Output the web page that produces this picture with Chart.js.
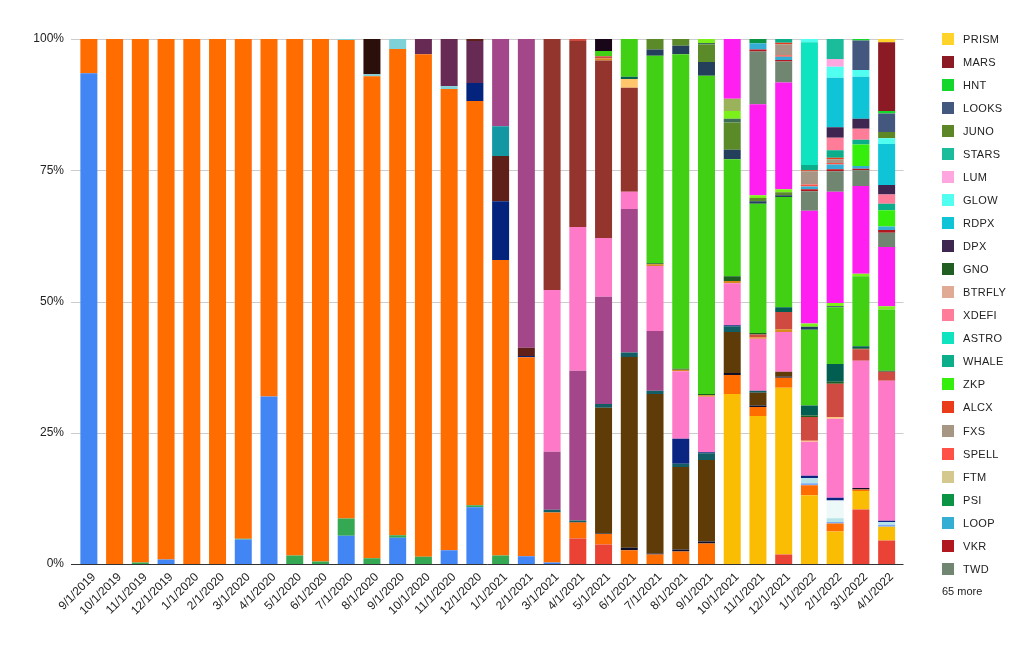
<!DOCTYPE html>
<html><head><meta charset="utf-8">
<script src="https://cdn.jsdelivr.net/npm/chart.js@4"></script>
<style>
html,body{margin:0;padding:0;background:#fff;}
#wrap{position:relative;width:1035px;height:647px;overflow:hidden;}
#c{position:absolute;left:0;top:0;}
#legend{position:absolute;left:942px;top:0;width:93px;height:647px;font-family:"Liberation Sans",Arial,sans-serif;font-size:11px;color:#222;}
.item{position:absolute;left:0;height:12px;white-space:nowrap;}
.box{position:absolute;left:0;top:0;width:12px;height:12px;}
.lbl{position:absolute;left:21px;top:0;line-height:12px;letter-spacing:0.3px;}
.more{position:absolute;left:0;line-height:12px;white-space:nowrap;}
</style></head>
<body><div id="wrap"><canvas id="c" width="1035" height="647"></canvas><div id="legend"></div></div>
<script>
const categories = ['9/1/2019','10/1/2019','11/1/2019','12/1/2019','1/1/2020','2/1/2020','3/1/2020','4/1/2020','5/1/2020','6/1/2020','7/1/2020','8/1/2020','9/1/2020','10/1/2020','11/1/2020','12/1/2020','1/1/2021','2/1/2021','3/1/2021','4/1/2021','5/1/2021','6/1/2021','7/1/2021','8/1/2021','9/1/2021','10/1/2021','11/1/2021','12/1/2021','1/1/2022','2/1/2022','3/1/2022','4/1/2022'];
const yTicks = [0, 25, 50, 75, 100];
const moreLabel = '65 more';

// Series not named in the visible legend (bottom of stack upward)
const s01 = [93.5,0,0,0.85,0,0,4.65,31.9, 0,0,5.4,0,5.0,0,2.6,10.8, 0,1.5,0.3,0,0,0,0,0, 0,0,0,0,0,0,0,0];
const s02 = [0,0,0,0,0,0,0,0, 0,0,0,0,0,0,0,0, 0,0,0,4.85,3.7,0,0,0, 0,0,0,1.8,0,0,10.4,4.5];
const s03 = [0,0,0,0,0,0,0,0, 0,0,0,0,0,0,0,0, 0,0,0,0,0,0,0,0, 0,32.4,28.2,31.75,13.1,6.2,3.5,2.6];
const s04 = [0,0,0.3,0,0,0,0.15,0, 1.6,0.5,3.25,1.1,0.5,1.4,0,0.4, 1.6,0,0,0,0,0,0,0, 0,0,0,0,0,0,0,0];
const s05 = [6.5,100,99.7,99.15,100,100,95.2,68.1, 98.4,99.5,91.15,91.8,92.6,95.7,87.9,77.0, 56.3,37.9,9.5,3.05,2.0,2.6,1.8,2.4, 3.9,3.6,1.7,1.95,1.9,1.5,0.3,0];
const s06 = [0,0,0,0,0,0,0,0, 0,0,0,0,0,0,0,0, 0,0,0,0,0,0,0,0, 0,0,0,0,0.4,0.3,0,0.4];
const s07 = [0,0,0,0,0,0,0,0, 0,0,0.2,0.4,1.9,0,0.5,0, 0,0,0,0,0,0,0,0, 0,0,0,0,0,0,0,0];
const s08 = [0,0,0,0,0,0,0,0, 0,0,0,0,0,0,0,0, 0,0,0,0,0,0,0,0, 0,0,0,0,1.0,0.7,0,0.5];
const s09 = [0,0,0,0,0,0,0,0, 0,0,0,0,0,0,0,0, 0,0,0,0,0,0,0,0, 0,0,0,0,0,3.4,0,0];
const s10 = [0,0,0,0,0,0,0,0, 0,0,0,6.7,0,0,0,0, 0,0,0,0,0,0,0,0, 0,0,0,0,0,0,0,0];
const s11 = [0,0,0,0,0,0,0,0, 0,0,0,0,0,0,0,3.4, 11.2,0.2,0,0,0,0,0,0, 0,0,0,0,0,0,0,0];
const s12 = [0,0,0,0,0,0,0,0, 0,0,0,0,0,2.9,9.0,8.0, 0,0,0,0,0,0,0,0, 0,0,0,0,0,0,0,0];
const s13 = [0,0,0,0,0,0,0,0, 0,0,0,0,0,0,0,0.4, 8.6,1.6,0,0,0,0,0,0, 0,0,0,0,0,0,0,0];
const s14 = [0,0,0,0,0,0,0,0, 0,0,0,0,0,0,0,0, 5.7,0,0,0,0,0,0,0, 0,0,0,0,0,0,0,0];
const s15 = [0,0,0,0,0,0,0,0, 0,0,0,0,0,0,0,0, 0,0,0,0.1,0.1,0.5,0.2,0.35, 0.4,0.4,0.3,0.2,0,0,0.3,0];
const s16 = [0,0,0,0,0,0,0,0, 0,0,0,0,0,0,0,0, 0,0,0,0,23.95,36.35,30.4,15.75, 15.5,7.8,2.4,0.9,0,0,0,0];
const s17 = [0,0,0,0,0,0,0,0, 0,0,0,0,0,0,0,0, 0,0,0.55,0.3,0.75,0.85,0.6,0.6, 1.3,1.1,0.4,0,0,0,0,0];
const s18 = [0,0,0,0,0,0,0,0, 0,0,0,0,0,0,0,0, 0,0,0,0,0,0,0,4.75, 0.2,0.2,0,0,0.4,0.5,0,0.25];
const s19 = [0,0,0,0,0,0,0,0, 0,0,0,0,0,0,0,0, 16.6,58.8,11.05,28.5,20.4,27.3,11.4,0, 0,0,0,0,0,0,0,0];
const s20 = [0,0,0,0,0,0,0,0, 0,0,0,0,0,0,0,0, 0,0,30.8,27.4,11.2,3.3,12.35,12.85, 10.55,8.0,9.9,7.6,6.5,15.05,24.2,26.65];
const s21 = [0,0,0,0,0,0,0,0, 0,0,0,0,0,0,0,0, 0,0,47.8,35.4,33.8,19.8,0,0, 0,0,0,0,0,0,0,0];
const s22 = [0,0,0,0,0,0,0,0, 0,0,0,0,0,0,0,0, 0,0,0,0,0.4,0,0.35,0.3, 0.3,0.4,0.3,0.5,0,0,0,0];
const s23 = [0,0,0,0,0,0,0,0, 0,0,0,0,0,0,0,0, 0,0,0,0,0,1.7,0,0, 0,0,0,0,0.2,0.3,0,0];
const s24 = [0,0,0,0,0,0,0,0, 0,0,0,0,0,0,0,0, 0,0,0,0.4,0.4,0,0,0, 0,0,0.5,3.3,4.5,6.4,2.2,1.7];
const s25 = [0,0,0,0,0,0,0,0, 0,0,0,0,0,0,0,0, 0,0,0,0,0,0,0.2,0.2, 0.25,0.9,0.3,0,0.3,0.35,0.2,0.2];
const s26 = [0,0,0,0,0,0,0,0, 0,0,0,0,0,0,0,0, 0,0,0,0,0,0.4,0,0, 0,0,0,0.9,1.9,3.4,0.4,0];
const s27 = [0,0,0,0,0,0,0,0, 0,0,0,0,0,0,0,0, 0,0,0,0,1.0,7.2,39.5,59.9, 60.6,22.3,24.6,21.0,14.4,10.8,13.3,11.7];
const s28 = [0,0,0,0,0,0,0,0, 0,0,0,0,0,0,0,0, 0,0,0,0,2.3,0,0,0, 0,0,0,0,0,0,0,0];
const s29 = [0,0,0,0,0,0,0,0, 0,0,0,0,0,0,0,0, 0,0,0,0,0,0,1.2,1.6, 2.6,1.8,0.5,0.35,0.6,0.2,0,0];
const s30 = [0,0,0,0,0,0,0,0, 0,0,0,0,0,0,0,0, 0,0,0,0,0,0,2.0,1.3, 3.35,5.2,0.6,0.55,0,0,0,0];
const s31 = [0,0,0,0,0,0,0,0, 0,0,0,0,0,0,0,0, 0,0,0,0,0,0,0,0, 0.3,0.7,0,0,0,0,0,0];
const s32 = [0,0,0,0,0,0,0,0, 0,0,0,0,0,0,0,0, 0,0,0,0,0,0,0,0, 0.75,1.5,0.55,0.6,0.6,0.6,0.5,0.6];
const s33 = [0,0,0,0,0,0,0,0, 0,0,0,0,0,0,0,0, 0,0,0,0,0,0,0,0, 0,2.3,0,0,0,0,0,0];
const s34 = [0,0,0,0,0,0,0,0, 0,0,0,0,0,0,0,0, 0,0,0,0,0,0,0,0, 0,11.4,17.3,20.3,21.5,21.2,16.7,11.3];

// Series shown in the legend (bottom of stack upward)
const twd    = [0,0,0,0,0,0,0,0, 0,0,0,0,0,0,0,0, 0,0,0,0,0,0,0,0, 0,0,10.05,4.0,3.7,3.9,3.0,2.7];
const vkr    = [0,0,0,0,0,0,0,0, 0,0,0,0,0,0,0,0, 0,0,0,0,0,0,0,0, 0,0,0.4,0.3,0.4,0.4,0.3,0.5];
const loop   = [0,0,0,0,0,0,0,0, 0,0,0,0,0,0,0,0, 0,0,0,0,0,0,0,0, 0,0,1.2,0.6,0.5,0.9,0.5,0.7];
const psi    = [0,0,0,0,0,0,0,0, 0,0,0,0,0,0,0,0, 0,0,0,0,0,0,0,0, 0,0,0.8,0,0,0,0,0];
const ftm    = [0,0,0,0,0,0,0,0, 0,0,0,0,0,0,0,0, 0,0,0,0,0,0,0,0, 0,0,0,0,0,0,0,0];
const spell  = [0,0,0,0,0,0,0,0, 0,0,0,0,0,0,0,0, 0,0,0,0,0,0,0,0, 0,0,0,0.3,0.4,0.3,0,0];
const fxs    = [0,0,0,0,0,0,0,0, 0,0,0,0,0,0,0,0, 0,0,0,0,0,0,0,0, 0,0,0,2.1,2.5,0.7,0,0];
const alcx   = [0,0,0,0,0,0,0,0, 0,0,0,0,0,0,0,0, 0,0,0,0,0,0,0,0, 0,0,0,0.3,0.2,0.3,0,0];
const zkp    = [0,0,0,0,0,0,0,0, 0,0,0,0,0,0,0,0, 0,0,0,0,0,0,0,0, 0,0,0,0,0,0,4.1,3.1];
const whale  = [0,0,0,0,0,0,0,0, 0,0,0,0,0,0,0,0, 0,0,0,0,0,0,0,0, 0,0,0,0.7,1.0,1.4,0.9,1.2];
const astro  = [0,0,0,0,0,0,0,0, 0,0,0,0,0,0,0,0, 0,0,0,0,0,0,0,0, 0,0,0,0,23.4,0,0,0];
const xdefi  = [0,0,0,0,0,0,0,0, 0,0,0,0,0,0,0,0, 0,0,0,0,0,0,0,0, 0,0,0,0,0,2.4,2.1,1.8];
const btrfly = [0,0,0,0,0,0,0,0, 0,0,0,0,0,0,0,0, 0,0,0,0,0,0,0,0, 0,0,0,0,0,0,0,0];
const gno    = [0,0,0,0,0,0,0,0, 0,0,0,0,0,0,0,0, 0,0,0,0,0,0,0,0, 0,0,0,0,0,0,0,0];
const dpx    = [0,0,0,0,0,0,0,0, 0,0,0,0,0,0,0,0, 0,0,0,0,0,0,0,0, 0,0,0,0,0,2.0,1.9,1.8];
const rdpx   = [0,0,0,0,0,0,0,0, 0,0,0,0,0,0,0,0, 0,0,0,0,0,0,0,0, 0,0,0,0,0,9.4,8.0,7.8];
const glow   = [0,0,0,0,0,0,0,0, 0,0,0,0,0,0,0,0, 0,0,0,0,0,0,0,0, 0,0,0,0,0.6,2.1,1.3,1.1];
const lum    = [0,0,0,0,0,0,0,0, 0,0,0,0,0,0,0,0, 0,0,0,0,0,0,0,0, 0,0,0,0,0,1.5,0,0];
const stars  = [0,0,0,0,0,0,0,0, 0,0,0,0,0,0,0,0, 0,0,0,0,0,0,0,0, 0,0,0,0,0,3.8,0,0];
const juno   = [0,0,0,0,0,0,0,0, 0,0,0,0,0,0,0,0, 0,0,0,0,0,0,0,0, 0,0,0,0,0,0,0,1.2];
const looks  = [0,0,0,0,0,0,0,0, 0,0,0,0,0,0,0,0, 0,0,0,0,0,0,0,0, 0,0,0,0,0,0,5.6,3.5];
const hnt    = [0,0,0,0,0,0,0,0, 0,0,0,0,0,0,0,0, 0,0,0,0,0,0,0,0, 0,0,0,0,0,0,0.3,0.5];
const mars   = [0,0,0,0,0,0,0,0, 0,0,0,0,0,0,0,0, 0,0,0,0,0,0,0,0, 0,0,0,0,0,0,0,13.1];
const prism  = [0,0,0,0,0,0,0,0, 0,0,0,0,0,0,0,0, 0,0,0,0,0,0,0,0, 0,0,0,0,0,0,0,0.6];

const hiddenSeries = [s01,s02,s03,s04,s05,s06,s07,s08,s09,s10,s11,s12,s13,s14,s15,s16,s17,s18,s19,s20,s21,s22,s23,s24,s25,s26,s27,s28,s29,s30,s31,s32,s33,s34];
const hiddenColors = ['#4285F4','#EA4335','#FBBC04','#34A853','#FF6D01','#7BAAF7','#7ED1D7','#B5E3E7','#EDF8F9','#2A0F0A','#03237D','#672A55','#5E2019','#1297A3','#0E0E2A','#5F3B07','#135E64','#0A2582','#A3478A','#FF79C9','#93352C','#D98A1E','#FFC66B','#CF4A40','#1B5E20','#035E52','#41D014','#1A0619','#233F5B','#5B8A29','#3E6E55','#7CF01A','#9AB35A','#FF1FF0'];
const legendNames = ['TWD','VKR','LOOP','PSI','FTM','SPELL','FXS','ALCX','ZKP','WHALE','ASTRO','XDEFI','BTRFLY','GNO','DPX','RDPX','GLOW','LUM','STARS','JUNO','LOOKS','HNT','MARS','PRISM'];
const legendSeries = [twd,vkr,loop,psi,ftm,spell,fxs,alcx,zkp,whale,astro,xdefi,btrfly,gno,dpx,rdpx,glow,lum,stars,juno,looks,hnt,mars,prism];
const legendColors = ['#708671','#B0171E','#35AED4','#0B9444','#D4C88E','#FF5146','#A89684','#EA3C1B','#35EE0C','#0BAE8A','#0FE3C0','#FF7D99','#E0AA94','#215E22','#3F2650','#0EC4D6','#50FFF0','#FFA5E0','#1ABC9C','#5D8727','#44587F','#14D62B','#8B1A24','#FFD42A'];

const datasets = [];
hiddenSeries.forEach((d, i) => datasets.push({label: 'Other ' + (i + 1), data: d, backgroundColor: hiddenColors[i]}));
legendSeries.forEach((d, i) => datasets.push({label: legendNames[i], data: d, backgroundColor: legendColors[i]}));
datasets.forEach(ds => { ds.borderWidth = 0; ds.barPercentage = 1; ds.categoryPercentage = 0.66; });

// HTML legend: top of stack first
const leg = document.getElementById('legend');
const shown = legendNames.map((n, i) => ({n, c: legendColors[i]})).reverse();
shown.forEach((it, i) => {
  const d = document.createElement('div');
  d.className = 'item';
  d.style.top = (33 + i * 23.03) + 'px';
  d.innerHTML = '<div class="box" style="background:' + it.c + '"></div><div class="lbl">' + it.n + '</div>';
  leg.appendChild(d);
});
const more = document.createElement('div');
more.className = 'more';
more.style.top = (33 + shown.length * 23.03 - 1) + 'px';
more.textContent = moreLabel;
leg.appendChild(more);

const gridPlugin = {
  id: 'gridlines',
  beforeDatasetsDraw(chart) {
    const {ctx, chartArea: a, scales: {y}} = chart;
    ctx.save();
    ctx.lineWidth = 1;
    yTicks.forEach(v => {
      if (v === 0) return;
      const py = Math.round(y.getPixelForValue(v)) + 0.5;
      ctx.strokeStyle = '#cccccc';
      ctx.beginPath(); ctx.moveTo(a.left - 5, py); ctx.lineTo(a.right + 4, py); ctx.stroke();
    });
    ctx.restore();
  },
  afterDatasetsDraw(chart) {
    const {ctx, chartArea: a, scales: {y}} = chart;
    ctx.save();
    ctx.lineWidth = 1;
    ctx.strokeStyle = '#333333';
    const py = Math.round(y.getPixelForValue(0)) + 0.5;
    ctx.beginPath(); ctx.moveTo(a.left - 5, py); ctx.lineTo(a.right + 4, py); ctx.stroke();
    ctx.restore();
  }
};

Chart.defaults.font.family = '"Liberation Sans", Arial, sans-serif';
Chart.defaults.font.size = 12;
Chart.defaults.color = '#222';

new Chart(document.getElementById('c'), {
  type: 'bar',
  data: {labels: categories, datasets},
  plugins: [gridPlugin],
  options: {
    responsive: false,
    animation: false,
    layout: {padding: {top: 39, right: 135.5, left: 0, bottom: 0}},
    plugins: {legend: {display: false}, tooltip: {enabled: false}},
    scales: {
      x: {
        stacked: true,
        grid: {display: false, drawTicks: false},
        border: {display: false},
        ticks: {minRotation: 45, maxRotation: 45, autoSkip: false, padding: 6, labelOffset: 5, color: '#222'},
        afterFit(s) { s.height = 83; }
      },
      y: {
        stacked: true,
        min: 0, max: 100,
        afterBuildTicks(s) { s.ticks = yTicks.map(v => ({value: v})); },
        grid: {display: false, drawTicks: false},
        border: {display: false},
        ticks: {padding: 12, color: '#222', callback: v => v + '%'},
        afterFit(s) { s.width = 76; }
      }
    }
  }
});
</script>
</body></html>
